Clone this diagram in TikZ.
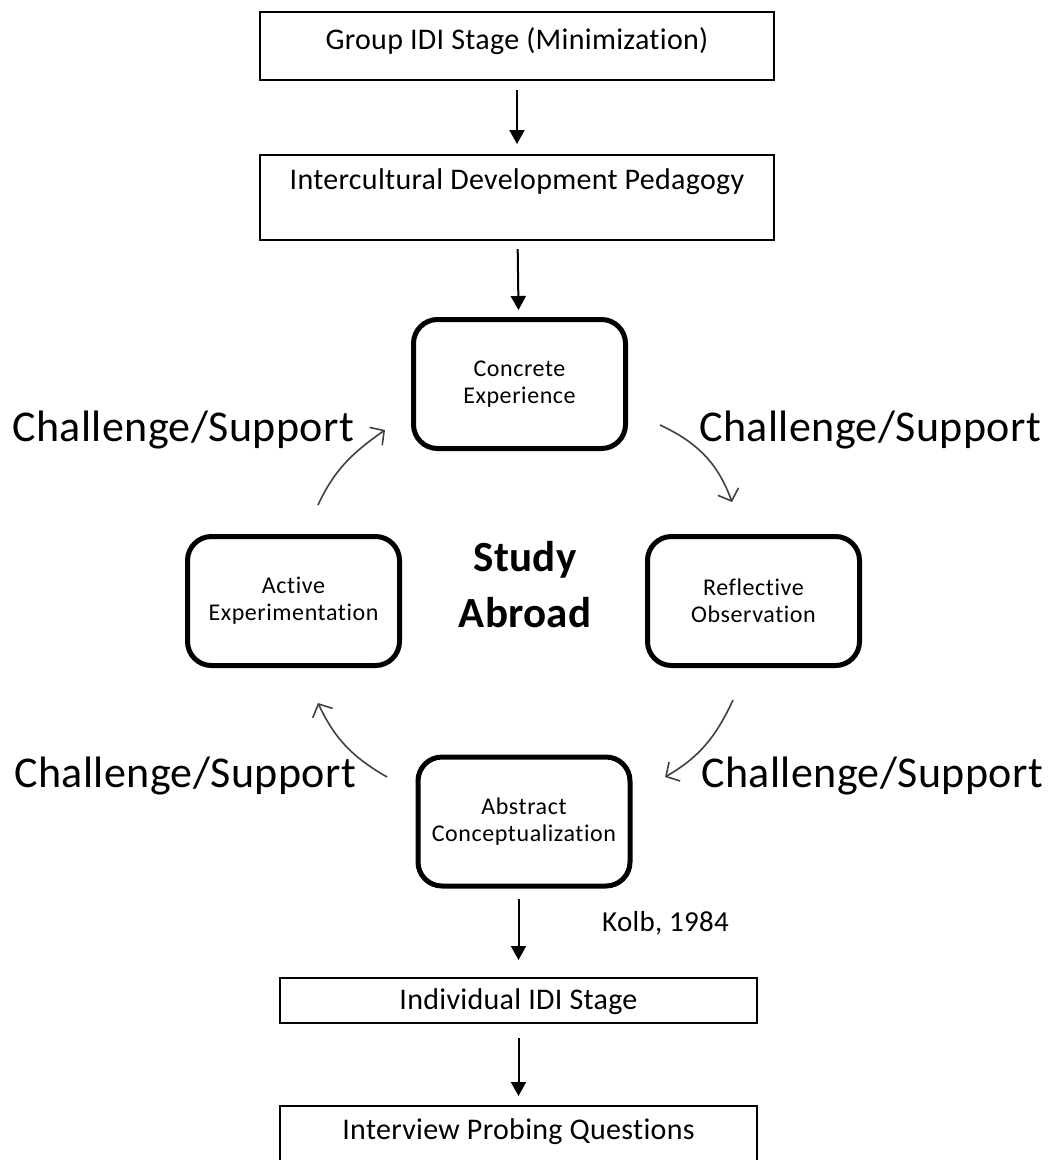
\documentclass[tikz,border=0pt]{standalone}
\usepackage{fontspec}
\setmainfont[Ligatures=NoCommon, LetterSpace=1]{Carlito}
\newfontfamily\stagefont[Ligatures=NoCommon, LetterSpace=2.4]{Carlito}
\newfontfamily\boldfont[Ligatures=NoCommon, LetterSpace=0.5]{Carlito}
\usetikzlibrary{arrows.meta}
\begin{document}
\begin{tikzpicture}[x=1pt,y=1pt,
  box/.style={draw, line width=2.2pt, inner sep=0pt, font=\fontsize{30}{36}\selectfont},
  stage/.style={draw, line width=5pt, rounded corners=24pt, minimum width=212pt, minimum height=129pt, align=center, inner sep=0pt, font=\stagefont\fontsize{24}{27}\selectfont},
  cs/.style={font=\fontsize{44}{52}\selectfont, inner sep=0pt, anchor=base west},
  flow/.style={line width=2pt, -{Triangle[length=14pt,width=15pt]}},
  cyc/.style={line width=1.6pt, draw=black!75, -{Straight Barb[length=10pt,width=22pt,line width=1.6pt]}},
]
\useasboundingbox (0,0) rectangle (1048,-1160);
\clip (0,0) rectangle (1048,-1160);

% rectangular boxes
\node[box, minimum width=514pt, text height=37pt, text depth=31pt, anchor=north] (grp) at (517,-11) {Group IDI Stage (Minimization)};
\node[box, minimum width=514pt, text height=34pt, text depth=51pt, anchor=north] (ped) at (517,-154) {Intercultural Development Pedagogy};
\node[box, minimum width=477pt, text height=31pt, text depth=14pt, anchor=north] (ind) at (518.5,-977) {Individual IDI Stage};
\node[box, minimum width=477pt, text height=33pt, text depth=30pt, anchor=north] (ipq) at (518.5,-1105) {Interview Probing Questions};

% cycle stages
\node[stage] (ce) at (519.5,-384) {Concrete\\Experience};
\node[stage] (ro) at (753.5,-601) {Reflective\\Observation};
\node[stage] (ae) at (293.5,-601) {Active\\Experimentation};
\node[stage] (ac) at (524,-821.5) {Abstract\\Conceptualization};

\node[font=\boldfont\fontsize{43}{56}\selectfont\bfseries, align=center, inner sep=0pt] (sa) at (525,-585) {Study\\Abroad};

% challenge/support labels
\node[cs] (cstl) at (12,-441) {Challenge/Support};
\node[cs] (cstr) at (699,-441) {Challenge/Support};
\node[cs] (csbl) at (14,-787) {Challenge/Support};
\node[cs] (csbr) at (701,-787) {Challenge/Support};

\node[font=\fontsize{29}{34}\selectfont, anchor=base west, inner sep=0pt] (kolb) at (602,-931) {Kolb, 1984};

% straight flow arrows
\draw[flow, shorten <=9pt, shorten >=10pt] (grp) -- (ped);
\draw[flow, shorten <=8pt, shorten >=7pt] (ped) -- (ce);
\draw[flow, shorten <=10pt, shorten >=17pt] (ind.north |- ac.south) -- (ind.north);
\draw[flow, shorten <=14pt, shorten >=9pt] (ind) -- (ipq);

% curved cycle arrows
\coordinate (tla) at (318,-505);
\coordinate (tlb) at (385,-430);
\coordinate (tra) at (660,-425);
\coordinate (trb) at (732,-502);
\coordinate (bra) at (733,-700);
\coordinate (brb) at (665,-777);
\coordinate (bla) at (387,-777);
\coordinate (blb) at (318,-703);
\draw[cyc] (tla) to[out=65,in=-145] (tlb);
\draw[cyc] (tra) to[out=-25,in=110] (trb);
\draw[cyc] (bra) to[out=-115,in=30] (brb);
\draw[cyc] (bla) to[out=150,in=-65] (blb);
\end{tikzpicture}
\end{document}
